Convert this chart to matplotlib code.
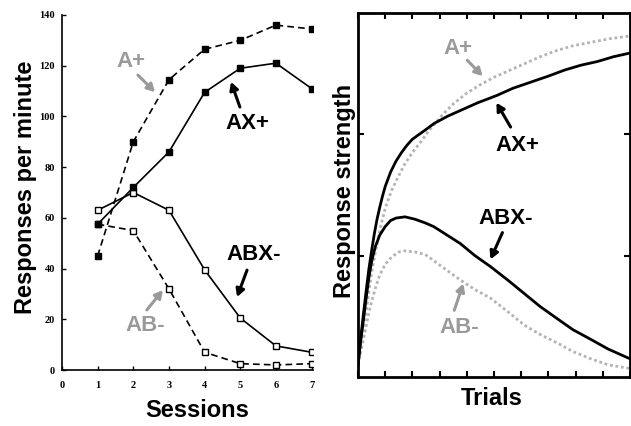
import numpy as np
import matplotlib
matplotlib.use("Agg")
import matplotlib.pyplot as plt

# --- session data (responses per minute) ---
sessions = [1, 2, 3, 4, 5, 6, 7]
a_plus = [45, 90, 114.5, 126.5, 130, 136, 134.5]
ax_plus = [57.5, 72, 86, 109.5, 119, 121, 111]
abx_minus = [63, 70, 63, 39.5, 20.5, 9.5, 7]
ab_minus = [57.5, 55, 32, 7, 2.5, 2, 2.5]

# --- model curves (response strength vs trials) ---
trials_axp = [0, 1, 2, 3, 4, 5, 6, 7, 8, 9, 10, 12, 14, 16, 18, 20, 22.5, 25,
              28, 33, 38, 44, 51, 57, 63.5, 70, 76, 82, 88, 94, 100]
axp_curve = [0.10, 0.32, 0.52, 0.71, 0.89, 1.04, 1.18, 1.30, 1.40, 1.49, 1.57,
             1.69, 1.78, 1.85, 1.91, 1.96, 2.00, 2.04, 2.09, 2.15, 2.20, 2.26,
             2.32, 2.38, 2.43, 2.48, 2.53, 2.57, 2.60, 2.64, 2.67]
trials_ap = [0, 1, 2, 3, 4, 5, 6, 7, 8, 10, 12.4, 15, 17.3, 20, 23.5, 26, 28,
             31, 35, 40, 45, 50, 55, 61, 67, 73, 79, 86, 93, 100]
ap_curve = [0.10, 0.26, 0.40, 0.54, 0.70, 0.86, 0.98, 1.10, 1.21, 1.39, 1.54,
            1.66, 1.76, 1.85, 1.95, 2.03, 2.08, 2.16, 2.25, 2.34, 2.41, 2.47,
            2.52, 2.58, 2.64, 2.69, 2.73, 2.76, 2.79, 2.81]
trials_abx = [0, 1, 2, 3, 4, 5, 6.3, 8, 10, 12, 14, 17.3, 21, 24.7, 27.8, 32,
              37.6, 43, 48.7, 55, 61, 67, 73.3, 79, 85.6, 92, 100]
abx_curve = [0.10, 0.30, 0.47, 0.65, 0.82, 0.95, 1.07, 1.17, 1.24, 1.29, 1.31,
             1.32, 1.30, 1.27, 1.24, 1.18, 1.10, 1.00, 0.91, 0.80, 0.69, 0.58,
             0.48, 0.39, 0.31, 0.23, 0.15]
trials_ab = [0, 1, 2, 3, 4, 5.1, 6.5, 8, 10, 12.4, 15, 17.3, 21, 24.7, 27.8,
             32, 37.6, 43, 48.7, 55, 61, 67, 73.3, 79, 85.6, 92, 100]
ab_curve = [0.10, 0.21, 0.31, 0.42, 0.53, 0.63, 0.74, 0.84, 0.93, 0.99, 1.03,
            1.04, 1.03, 1.01, 0.96, 0.89, 0.80, 0.72, 0.65, 0.54, 0.43, 0.35,
            0.28, 0.21, 0.15, 0.10, 0.07]

grey = "#9a9a9a"
sans = "Liberation Sans"
W, H = 631, 426

fig = plt.figure(figsize=(W / 100, H / 100), dpi=100)

# ---------------- left panel ----------------
ax1 = fig.add_axes([62 / W, (H - 370) / H, (313 - 62) / W, 355 / H])
ax1.plot(sessions, ab_minus, "k--", lw=1.2, dashes=(4, 2.5), marker="s", ms=4.5,
         mfc="white", mec="k", mew=1)
ax1.plot(sessions, abx_minus, "k-", lw=1.2, marker="s", ms=4.5, mfc="white",
         mec="k", mew=1)
ax1.plot(sessions, a_plus, "k--", lw=1.2, dashes=(4, 2.5), marker="s", ms=4.5,
         mfc="k", mec="k")
ax1.plot(sessions, ax_plus, "k-", lw=1.2, marker="s", ms=4.5, mfc="k", mec="k")
ax1.set_xlim(0, 7.04)
ax1.set_ylim(0, 140)
ax1.set_xticks(range(8))
ax1.set_yticks(range(0, 141, 20))
for s in ["top", "right"]:
    ax1.spines[s].set_visible(False)
for s in ["left", "bottom"]:
    ax1.spines[s].set_linewidth(1.2)
ax1.tick_params(direction="in", length=3, width=1)
ax1.tick_params(axis="y", pad=5)
ax1.tick_params(axis="x", pad=8)
for lab in ax1.get_xticklabels() + ax1.get_yticklabels():
    lab.set_fontfamily("Liberation Serif")
    lab.set_fontweight("bold")
    lab.set_fontsize(7.5)
ax1.set_xlabel("Sessions", fontsize=17, fontweight="bold", family=sans)
ax1.xaxis.set_label_coords(0.54, -0.115)
ax1.xaxis.label.set_va("center")
ax1.set_ylabel("Responses per minute", fontsize=17, fontweight="bold", family=sans)
ax1.yaxis.set_label_coords(-0.145, 0.514)
ax1.yaxis.label.set_va("center")

arrow = dict(arrowstyle="-|>,head_length=0.45,head_width=0.25", lw=2.2,
             shrinkA=0, shrinkB=0)
ax1.text(1.93, 121.5, "A+", color=grey, fontsize=16, fontweight="bold",
         family=sans, ha="center", va="center")
ax1.annotate("", xy=(2.61, 109.6), xytext=(2.13, 116.3),
             arrowprops=dict(arrow, color=grey))
ax1.text(5.21, 97.4, "AX+", color="k", fontsize=16, fontweight="bold",
         family=sans, ha="center", va="center")
ax1.annotate("", xy=(4.74, 113.6), xytext=(4.99, 103.7),
             arrowprops=dict(arrow, color="k"))
ax1.text(5.38, 45.7, "ABX-", color="k", fontsize=16, fontweight="bold",
         family=sans, ha="center", va="center")
ax1.annotate("", xy=(4.91, 28.8), xytext=(5.19, 39.4),
             arrowprops=dict(arrow, color="k"))
ax1.text(2.33, 17.4, "AB-", color=grey, fontsize=16, fontweight="bold",
         family=sans, ha="center", va="center")
ax1.annotate("", xy=(2.83, 31.5), xytext=(2.38, 23.7),
             arrowprops=dict(arrow, color=grey))

# ---------------- right panel ----------------
ax2 = fig.add_axes([358 / W, (H - 377) / H, (630 - 358) / W, 364 / H])
ax2.plot(trials_ap, ap_curve, color="#b4b4b4", lw=2, ls=(0, (1, 1)))
ax2.plot(trials_ab, ab_curve, color="#b4b4b4", lw=2, ls=(0, (1, 1)))
ax2.plot(trials_axp, axp_curve, color="k", lw=2)
ax2.plot(trials_abx, abx_curve, color="k", lw=2)
ax2.set_xlim(0, 100)
ax2.set_ylim(0, 3)
ax2.set_xticks(np.arange(0, 101, 10))
ax2.set_yticks([1, 2])
ax2.set_xticklabels([])
ax2.set_yticklabels([])
ax2.tick_params(direction="in", length=4, width=1.5, top=True, right=True)
for s in ax2.spines.values():
    s.set_linewidth(2)
ax2.set_xlabel("Trials", fontsize=17, fontweight="bold", family=sans)
ax2.xaxis.set_label_coords(0.49, -0.058)
ax2.xaxis.label.set_va("center")
ax2.set_ylabel("Response strength", fontsize=17, fontweight="bold", family=sans)
ax2.yaxis.set_label_coords(-0.051, 0.51)
ax2.yaxis.label.set_va("center")

ax2.text(36.9, 2.71, "A+", color=grey, fontsize=16, fontweight="bold",
         family=sans, ha="center", va="center")
ax2.annotate("", xy=(45.8, 2.48), xytext=(40.2, 2.61),
             arrowprops=dict(arrow, color=grey))
ax2.text(58.7, 1.91, "AX+", color="k", fontsize=16, fontweight="bold",
         family=sans, ha="center", va="center")
ax2.annotate("", xy=(50.9, 2.26), xytext=(56.1, 2.06),
             arrowprops=dict(arrow, color="k"))
ax2.text(54.2, 1.31, "ABX-", color="k", fontsize=16, fontweight="bold",
         family=sans, ha="center", va="center")
ax2.annotate("", xy=(48.7, 0.97), xytext=(53.1, 1.19),
             arrowprops=dict(arrow, color="k"))
ax2.text(37.3, 0.41, "AB-", color=grey, fontsize=16, fontweight="bold",
         family=sans, ha="center", va="center")
ax2.annotate("", xy=(38.7, 0.77), xytext=(35.4, 0.55),
             arrowprops=dict(arrow, color=grey))

fig.savefig("out.png", dpi=100)
